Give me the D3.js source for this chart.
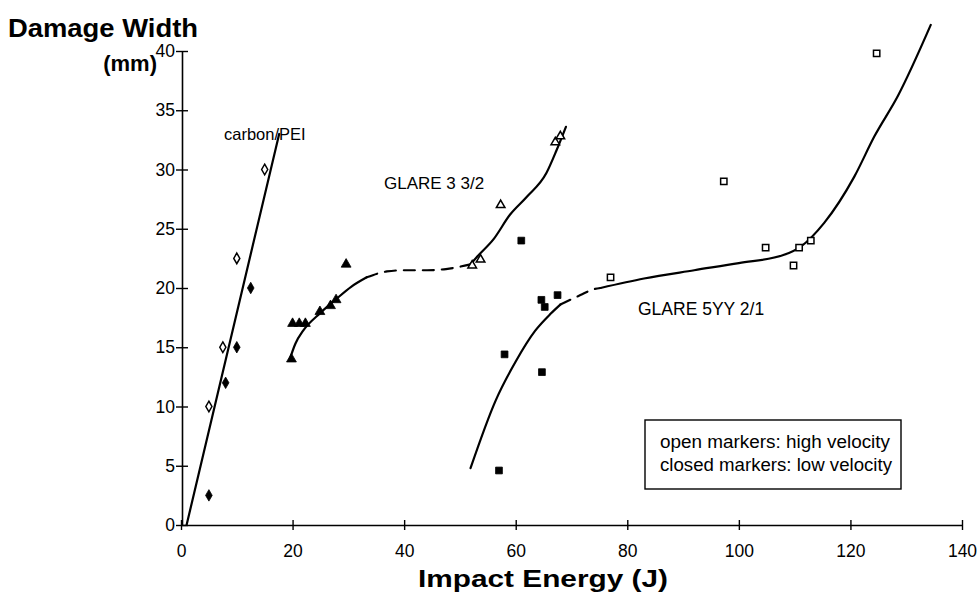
<!DOCTYPE html>
<html>
<head>
<meta charset="utf-8">
<script src="https://cdn.jsdelivr.net/npm/d3@7"></script>
<style>
  html, body { margin: 0; padding: 0; background: #fff; }
  svg { display: block; font-family: "Liberation Sans", Arial, sans-serif; }
</style>
</head>
<body>
<svg id="chart" width="980" height="592"></svg>
<script>
// ---- Data ----
const xTicks = [0, 20, 40, 60, 80, 100, 120, 140];
const yTicks = [0, 5, 10, 15, 20, 25, 30, 35, 40];

// carbon/PEI
const carbonOpen = [[15, 30], [10, 22.5], [7.5, 15], [5, 10]];
const carbonClosed = [[12.5, 20], [10, 15], [8, 12], [5, 2.5]];
const carbonLine = [[1, 0], [17.6, 33]];

// GLARE 3 3/2
const glare3Closed = [[19.8, 14], [20, 17], [21.2, 17], [22.3, 17], [24.9, 18], [26.8, 18.5], [27.8, 19], [29.6, 22]];
const glare3Open = [[52.2, 21.9], [53.7, 22.4], [57.3, 27], [67.1, 32.3], [68, 32.8]];
const glare3Solid1 = [[19.5, 14], [20.5, 15.3], [21.9, 16.4], [25, 17.9], [27.9, 19.1], [30.5, 20.1], [33.3, 20.9]];
const glare3Dash = [[33.3, 20.9], [36.9, 21.4], [39.9, 21.5], [44.1, 21.5], [47.5, 21.6], [51.9, 22.0]];
const glare3Solid2 = [[51.9, 22.0], [53.0, 22.6], [56.0, 24.1], [59.0, 26.2], [62.0, 27.7], [65.5, 29.7], [67.3, 31.6], [69.0, 33.6]];

// GLARE 5YY 2/1
const glare5Closed = [[61, 24], [64.6, 19], [65.2, 18.4], [67.5, 19.4], [58, 14.4], [64.7, 12.9], [57, 4.6]];
const glare5Open = [[77, 20.9], [97.3, 29], [104.8, 23.4], [109.8, 21.9], [110.8, 23.4], [112.9, 24], [124.7, 39.8]];
const glare5Solid1 = [[51.9, 4.8], [56.4, 10.5], [60, 13.8], [63.5, 16.4], [66.2, 17.8], [68, 18.6]];
const glare5Dash = [[68, 18.6], [71.6, 19.4], [74, 19.9], [75.2, 20.0]];
const glare5Solid2 = [[75.2, 20.0], [83, 20.8], [92, 21.5], [100, 22.1], [108.1, 22.8], [111.1, 23.5], [115.3, 25.5], [120.7, 29.4], [124.3, 32.8], [128.5, 36.2], [134.4, 42.2]];

// ---- Drawing ----
const svg = d3.select("#chart");
const x = d3.scaleLinear().domain([0, 140]).range([181, 962]);
const y = d3.scaleLinear().domain([0, 40]).range([525, 51]);

// Axes
const xAxis = d3.axisBottom(x).tickValues(xTicks).tickSize(0).tickPadding(0);
const gx = svg.append("g").attr("transform", `translate(0,${y(0)})`).call(xAxis);
gx.select(".domain").attr("stroke", "#000").attr("stroke-width", 1.6);
gx.selectAll(".tick line").attr("y1", -5).attr("y2", 5).attr("stroke", "#000").attr("stroke-width", 1.4);
gx.selectAll(".tick text").attr("y", 20).attr("font-size", 17.5).attr("font-family", "Liberation Sans, Arial, sans-serif").attr("fill", "#000");

const yAxis = d3.axisLeft(y).tickValues(yTicks).tickSize(0).tickPadding(0);
const gy = svg.append("g").attr("transform", `translate(${x(0) + 1},0)`).call(yAxis);
gy.select(".domain").attr("stroke", "#000").attr("stroke-width", 1.6);
gy.selectAll(".tick line").attr("x1", -6).attr("x2", 6).attr("stroke", "#000").attr("stroke-width", 1.4);
gy.selectAll(".tick text").attr("x", -7).attr("font-size", 17.5).attr("font-family", "Liberation Sans, Arial, sans-serif").attr("fill", "#000");

// Axis titles
svg.append("text").attr("x", 8).attr("y", 37).attr("font-size", 25).attr("font-weight", "bold")
  .attr("textLength", 190).attr("lengthAdjust", "spacingAndGlyphs").text("Damage Width");
svg.append("text").attr("x", 157).attr("y", 71).attr("text-anchor", "end").attr("font-size", 22).attr("font-weight", "bold").text("(mm)");
svg.append("text").attr("x", 543).attr("y", 587).attr("text-anchor", "middle").attr("font-size", 24).attr("font-weight", "bold")
  .attr("textLength", 250).attr("lengthAdjust", "spacingAndGlyphs").text("Impact Energy (J)");

// Curves
const line = d3.line().x(d => x(d[0])).y(d => y(d[1])).curve(d3.curveMonotoneX);
const straight = d3.line().x(d => x(d[0])).y(d => y(d[1]));
const drawPath = (data, gen, dashed) => {
  svg.append("path").datum(data).attr("d", gen).attr("fill", "none")
    .attr("stroke", "#000").attr("stroke-width", 2.2)
    .attr("stroke-linecap", "round")
    .attr("stroke-dasharray", dashed ? "11,8" : null);
};
drawPath(carbonLine, straight, false);
drawPath(glare3Solid1, line, false);
drawPath(glare3Dash, line, true);
drawPath(glare3Solid2, line, false);
drawPath(glare5Solid1, line, false);
drawPath(glare5Dash, line, true);
drawPath(glare5Solid2, line, false);

// Markers
const sym = (type, size) => d3.symbol().type(type).size(size);
const drawMarkers = (data, type, size, open) => {
  svg.append("g").selectAll("path").data(data).join("path")
    .attr("transform", d => `translate(${x(d[0])},${y(d[1])})`)
    .attr("d", sym(type, size))
    .attr("fill", open ? "#fff" : "#000")
    .attr("stroke", "#000")
    .attr("stroke-width", open ? 1.5 : 0.8);
};
drawMarkers(carbonOpen, d3.symbolDiamond, 32, true);
drawMarkers(carbonClosed, d3.symbolDiamond, 38, false);
drawMarkers(glare3Closed, d3.symbolTriangle, 42, false);
drawMarkers(glare3Open, d3.symbolTriangle, 32, true);
drawMarkers(glare5Closed, d3.symbolSquare, 46, false);
drawMarkers(glare5Open, d3.symbolSquare, 40, true);

// Series labels
svg.append("text").attr("x", 224).attr("y", 140).attr("font-size", 16.5).text("carbon/PEI");
svg.append("text").attr("x", 384).attr("y", 189).attr("font-size", 17).text("GLARE 3 3/2");
svg.append("text").attr("x", 638).attr("y", 315).attr("font-size", 17.5).text("GLARE 5YY 2/1");

// Legend box
svg.append("rect").attr("x", 645).attr("y", 420).attr("width", 256).attr("height", 69)
  .attr("fill", "#fff").attr("stroke", "#000").attr("stroke-width", 1.4);
svg.append("text").attr("x", 660).attr("y", 448).attr("font-size", 17.5)
  .attr("textLength", 230).attr("lengthAdjust", "spacingAndGlyphs").text("open markers: high velocity");
svg.append("text").attr("x", 660).attr("y", 471).attr("font-size", 17.5)
  .attr("textLength", 232).attr("lengthAdjust", "spacingAndGlyphs").text("closed markers: low velocity");
</script>
</body>
</html>
